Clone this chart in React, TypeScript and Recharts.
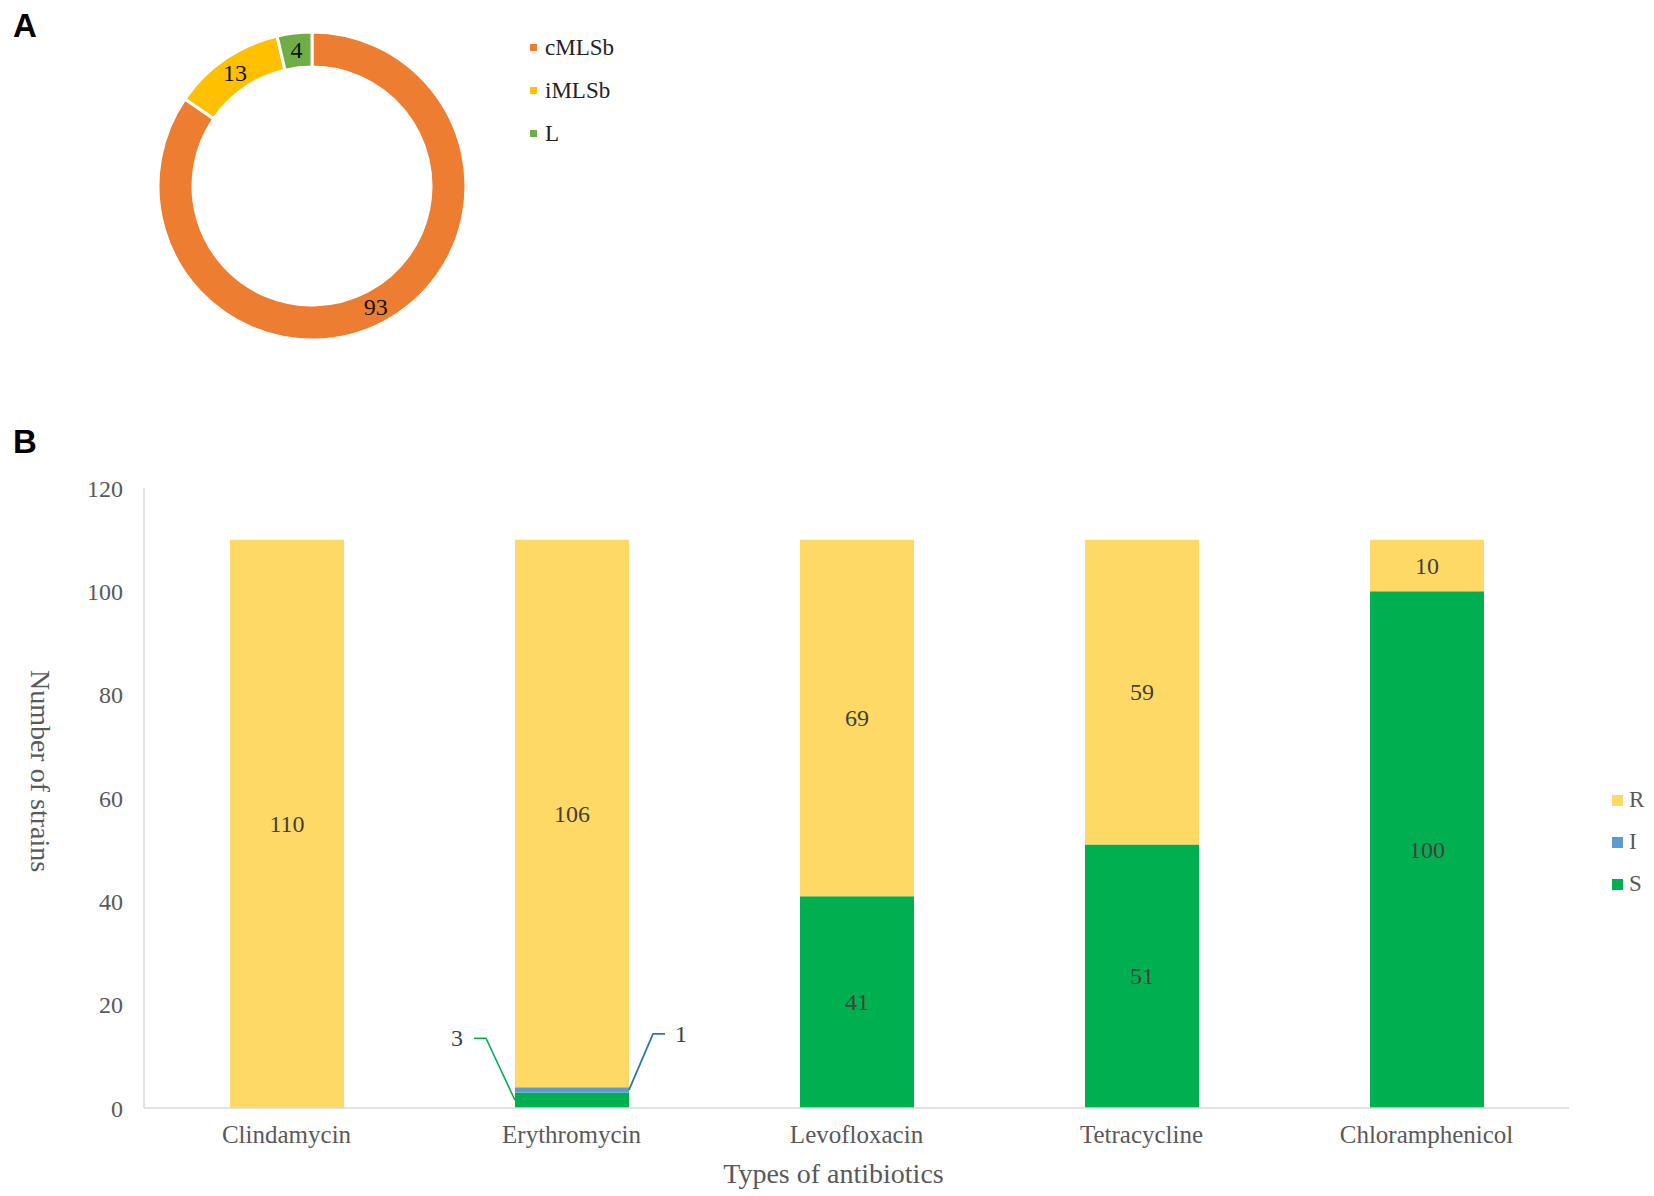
import React from 'react';
import { PieChart, Pie, Cell, BarChart, Bar, XAxis, YAxis, LabelList, Legend, Label } from 'recharts';

// ---------- Panel A data ----------
const phenotypeNames = ['cMLSb', 'iMLSb', 'L'];
const phenotypeValues = [93, 13, 4];
const phenotypeColors = ['#ED7D31', '#FFC000', '#70AD47'];

// ---------- Panel B data ----------
const antibiotics = ['Clindamycin', 'Erythromycin', 'Levofloxacin', 'Tetracycline', 'Chloramphenicol'];
const sValues = [0, 3, 41, 51, 100];
const iValues = [0, 1, 0, 0, 0];
const rValues = [110, 106, 69, 59, 10];
const yTicks = [0, 20, 40, 60, 80, 100, 120];
const legendOrder = ['R', 'I', 'S'];
const seriesColors: Record<string, string> = { R: '#FFD966', I: '#5B9BD5', S: '#00B050' };
const leaderColors: Record<string, string> = { I: '#2E75B6', S: '#00B050' };

const pieData = phenotypeNames.map((n, i) => ({ name: n, value: phenotypeValues[i] }));
const barData = antibiotics.map((n, i) => ({ name: n, S: sValues[i], I: iValues[i], R: rValues[i] }));

const SERIF = "'Liberation Serif', 'Times New Roman', serif";
const SANS = "'Liberation Sans', Arial, sans-serif";
const RAD = Math.PI / 180;

const pieLabel = (p: any) => {
  const r = (p.innerRadius + p.outerRadius) / 2;
  const x = p.cx + r * Math.cos(-p.midAngle * RAD);
  const y = p.cy + r * Math.sin(-p.midAngle * RAD);
  return (
    <text x={x} y={y} textAnchor="middle" dominantBaseline="central" fill="#111" fontSize={24} fontFamily={SERIF}>
      {p.value}
    </text>
  );
};

const PieLegend = () => (
  <div style={{ fontFamily: SERIF, fontSize: 23, color: '#222' }}>
    {phenotypeNames.map((n, i) => (
      <div key={n} style={{ display: 'flex', alignItems: 'center', height: 43, lineHeight: '43px' }}>
        <span style={{ width: 7, height: 7, background: phenotypeColors[i], marginRight: 8, display: 'inline-block' }} />
        <span>{n}</span>
      </div>
    ))}
  </div>
);

const BarLegend = () => (
  <div style={{ fontFamily: SERIF, fontSize: 23, color: '#595959' }}>
    {legendOrder.map((n) => (
      <div key={n} style={{ display: 'flex', alignItems: 'center', height: 42, lineHeight: '42px' }}>
        <span style={{ width: 11, height: 11, background: seriesColors[n], marginRight: 6, display: 'inline-block' }} />
        <span>{n}</span>
      </div>
    ))}
  </div>
);

const boxOf = (p: any) => {
  const x = Number(p.x), y = Number(p.y), w = Number(p.width), h = Number(p.height);
  const left = Math.min(x, x + w), right = Math.max(x, x + w);
  const top = Math.min(y, y + h), bottom = Math.max(y, y + h);
  return { left, right, top, bottom, w: right - left, h: bottom - top };
};

const centerText = (x: number, y: number, v: any) => (
  <text x={x} y={y} textAnchor="middle" dominantBaseline="central" fill="#404040" fontSize={24} fontFamily={SERIF}>
    {v}
  </text>
);

const makeSegmentLabel = (series: string, side: 'left' | 'right') => (p: any) => {
  const v = p.value;
  if (!v) return null;
  const { left, right, top, bottom, h } = boxOf(p);
  if (h >= 30) return centerText((left + right) / 2, (top + bottom) / 2, v);
  const my = (top + bottom) / 2;
  const color = leaderColors[series];
  if (side === 'left') {
    const x0 = left;
    const pts = `${x0},${my} ${x0 - 29},${my - 62} ${x0 - 41},${my - 62}`;
    return (
      <g>
        <polyline points={pts} fill="none" stroke={color} strokeWidth={1.6} />
        <text x={x0 - 52} y={my - 62} textAnchor="end" dominantBaseline="central" fill="#404040" fontSize={24} fontFamily={SERIF}>
          {v}
        </text>
      </g>
    );
  }
  const x0 = right;
  const pts = `${x0},${my} ${x0 + 24},${my - 56} ${x0 + 36},${my - 56}`;
  return (
    <g>
      <polyline points={pts} fill="none" stroke={color} strokeWidth={1.8} />
      <text x={x0 + 46} y={my - 56} textAnchor="start" dominantBaseline="central" fill="#404040" fontSize={24} fontFamily={SERIF}>
        {v}
      </text>
    </g>
  );
};

const rLabel = (p: any) => {
  if (!p.value) return null;
  const { left, right, top, bottom } = boxOf(p);
  return centerText((left + right) / 2, (top + bottom) / 2, p.value);
};

const XTitle = (p: any) => {
  const vb = p.viewBox || { x: 144, y: 708, width: 1425, height: 40 };
  return (
    <text x={vb.x + vb.width / 2 - 23} y={vb.y + 75} textAnchor="middle" fill="#595959" fontSize={28} fontFamily={SERIF}>
      Types of antibiotics
    </text>
  );
};

const YTitle = (p: any) => {
  const vb = p.viewBox || { x: 84, y: 88, width: 60, height: 620 };
  const cx = vb.x - 53;
  const cy = vb.y + vb.height / 2 - 27;
  return (
    <text x={cx} y={cy} transform={`rotate(90, ${cx}, ${cy})`} textAnchor="middle" fill="#595959" fontSize={28} fontFamily={SERIF}>
      Number of strains
    </text>
  );
};

export default function App() {
  return (
    <div style={{ position: 'absolute', left: 0, top: 0, width: 1654, height: 1196, background: '#fff', overflow: 'hidden' }}>
      <div style={{ position: 'absolute', left: 0, top: 0 }}>
        <PieChart width={700} height={370} margin={{ top: 0, right: 0, bottom: 0, left: 0 }}>
          <Pie
            data={pieData}
            dataKey="value"
            nameKey="name"
            cx={312}
            cy={186}
            innerRadius={119}
            outerRadius={154}
            startAngle={90}
            endAngle={-270}
            stroke="#ffffff"
            strokeWidth={3}
            label={pieLabel}
            labelLine={false}
            isAnimationActive={false}
          >
            {pieData.map((d, i) => (
              <Cell key={d.name} fill={phenotypeColors[i]} />
            ))}
          </Pie>
          <Legend
            layout="vertical"
            align="center"
            verticalAlign="middle"
            content={PieLegend}
            wrapperStyle={{ position: 'absolute', left: 530, top: 26, width: 150, height: 130 }}
          />
        </PieChart>
      </div>

      <div style={{ position: 'absolute', left: 0, top: 400 }}>
        <BarChart
          width={1654}
          height={796}
          data={barData}
          margin={{ top: 88, right: 85, bottom: 48, left: 84 }}
          barSize={114}
        >
          <XAxis
            dataKey="name"
            interval={0}
            height={40}
            tickLine={false}
            tickMargin={11}
            axisLine={{ stroke: '#D9D9D9', strokeWidth: 1.5 }}
            tick={{ fill: '#595959', fontSize: 25, fontFamily: SERIF }}
          >
            <Label content={XTitle} />
          </XAxis>
          <YAxis
            domain={[0, 120]}
            ticks={yTicks}
            width={60}
            tickLine={false}
            tickMargin={15}
            axisLine={{ stroke: '#D9D9D9', strokeWidth: 1.5 }}
            tick={{ fill: '#595959', fontSize: 24, fontFamily: SERIF }}
          >
            <Label content={YTitle} />
          </YAxis>
          <Bar dataKey="S" stackId="a" fill={seriesColors.S} isAnimationActive={false}>
            <LabelList dataKey="S" content={makeSegmentLabel('S', 'left')} />
          </Bar>
          <Bar dataKey="I" stackId="a" fill={seriesColors.I} isAnimationActive={false}>
            <LabelList dataKey="I" content={makeSegmentLabel('I', 'right')} />
          </Bar>
          <Bar dataKey="R" stackId="a" fill={seriesColors.R} isAnimationActive={false}>
            <LabelList dataKey="R" content={rLabel} />
          </Bar>
          <Legend
            layout="vertical"
            align="center"
            verticalAlign="middle"
            content={BarLegend}
            wrapperStyle={{ position: 'absolute', left: 1612, top: 379, width: 40, height: 130 }}
          />
        </BarChart>
      </div>

      <svg width={1654} height={1196} style={{ position: 'absolute', left: 0, top: 0, pointerEvents: 'none' }}>
        <text x={13} y={37} fontFamily={SANS} fontWeight="bold" fontSize={33} fill="#000">A</text>
        <text x={13} y={453} fontFamily={SANS} fontWeight="bold" fontSize={33} fill="#000">B</text>
      </svg>
    </div>
  );
}
